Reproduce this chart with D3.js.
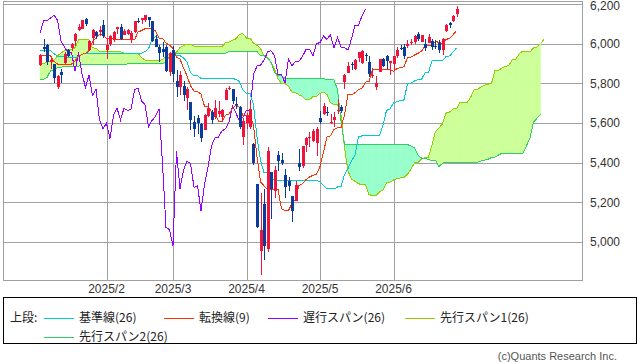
<!DOCTYPE html>
<html>
<head>
<meta charset="utf-8">
<script src="https://cdn.jsdelivr.net/npm/d3@7"></script>
<style>
body{margin:0;background:#fff;}
svg{display:block;}
</style>
</head>
<body>
<div id="chart"></div>
<script>
// daily candles, 2025/1/3 .. 2025/6/27
var open = [5891,5982,5993,5910,5897,5782,5859,5905,5968,5977,
    6015,6069,6076,6122,5969,6027,6058,6058,6096,5970,
    5998,6020,6072,6083,6046,6049,6025,6060,6116,6121,
    6117,6134,6114,6026,5982,5971,5981,5857,5969,5811,
    5782,5786,5726,5705,5604,5624,5594,5563,5635,5655,
    5632,5646,5630,5718,5775,5771,5695,5679,5527,5598,
    5580,5492,5293,4953,5194,4967,5353,5255,5441,5412,
    5336,5306,5232,5207,5396,5381,5489,5529,5508,5500,
    5625,5646,5655,5605,5617,5663,5679,5807,5854,5895,
    5870,5929,5902,5944,5910,5842,5782,5855,5925,5939,
    5903,5897,5938,5979,5985,5987,6005,6010,6049,6010,
    6000,6004,6012,5987,6004,5969,6062,6104,6112,6151];
var high = [5949,6021,6000,5928,5897,5840,5871,5960,5975,6001,
    6052,6100,6119,6128,6017,6074,6062,6087,6120,6022,
    6042,6062,6084,6101,6073,6076,6063,6116,6127,6129,
    6147,6134,6114,6044,5992,6010,5994,5959,5987,5865,
    5861,5812,5783,5706,5636,5642,5598,5645,5703,5665,
    5715,5711,5670,5775,5786,5772,5732,5685,5627,5650,
    5695,5500,5293,5246,5268,5481,5353,5381,5460,5450,
    5367,5329,5232,5309,5470,5485,5528,5554,5572,5581,
    5659,5700,5683,5646,5654,5720,5691,5845,5906,5906,
    5925,5959,5969,5954,5938,5878,5839,5922,5929,5944,
    5915,5937,5981,5991,5999,6017,6021,6043,6060,6046,
    6026,6050,6024,6018,6018,6028,6101,6108,6146,6188];
var low = [5888,5960,5890,5874,5800,5773,5801,5895,5932,5961,
    5990,6065,6074,6088,5962,5995,6024,6040,6031,5923,
    5990,6007,6049,6020,6046,6043,6003,6052,6103,6099,
    6111,6084,6008,5982,5909,5934,5858,5837,5806,5732,
    5742,5711,5666,5565,5529,5546,5504,5563,5631,5597,
    5622,5632,5603,5718,5764,5694,5670,5572,5488,5572,
    5571,5390,5069,4835,4910,4950,5116,5221,5359,5387,
    5220,5255,5101,5207,5358,5371,5455,5478,5505,5434,
    5597,5640,5634,5597,5580,5644,5649,5773,5852,5868,
    5866,5908,5895,5913,5830,5827,5768,5855,5880,5872,
    5843,5862,5929,5966,5921,5978,5994,6000,6014,6006,
    5963,6004,5969,5971,5952,5943,6059,6081,6107,6133];
var close = [5942,5975,5909,5918,5827,5836,5843,5950,5937,5997,
    6049,6086,6119,6101,6012,6067,6039,6071,6041,5994,
    6038,6061,6083,6026,6066,6069,6052,6115,6115,6129,
    6144,6118,6013,5983,5955,5956,5861,5955,5849,5779,
    5842,5739,5770,5615,5572,5599,5522,5639,5675,5615,
    5675,5663,5668,5767,5777,5712,5693,5581,5612,5633,
    5671,5397,5074,5062,4982,5457,5268,5363,5406,5397,
    5276,5283,5158,5288,5376,5485,5525,5529,5561,5570,
    5604,5687,5650,5607,5631,5664,5660,5844,5887,5892,
    5916,5958,5964,5940,5845,5842,5803,5922,5889,5912,
    5912,5936,5970,5971,5939,6000,6006,6039,6022,6045,
    5977,6033,5982,5981,5967,6025,6092,6092,6141,6173];

// 転換線(9)
var tenkan = [5939,5939,5939,5939,5910.5,5897,5897,5897,5897,5897,
    5912.5,5936.5,5946,5950.5,5964.5,6011.5,6030,6044.5,6045,6025.5,
    6025.5,6025.5,6021.5,6021.5,6021.5,6021.5,6021.5,6019.5,6058.5,6066,
    6075,6075,6075,6064.5,6028,6028,6002.5,5992,5976.5,5933,
    5923,5877.5,5838,5787.5,5761.5,5758,5745.5,5684.5,5682.5,5658,
    5643.5,5609.5,5609.5,5639.5,5645,5674.5,5691.5,5679,5637,5637,
    5637,5588,5427.5,5303.5,5283.5,5265,5265,5265,5265,5167.5,
    5158,5158,5195.5,5215.5,5285.5,5293,5314.5,5327.5,5336.5,5341,
    5380,5453.5,5529,5535.5,5567,5577,5577,5639.5,5743,5743,
    5752.5,5769.5,5774.5,5806.5,5809,5871,5868.5,5868.5,5868.5,5868.5,
    5868.5,5861,5874.5,5879.5,5883.5,5930,5932,5943,5951.5,5961,
    5990.5,5990.5,5990.5,6011.5,6006,6001.5,6022,6025.5,6044.5,6065.5];

// 基準線(26)
var kijun = [5964.5,5964.5,5964.5,5964.5,5950,5936.5,5936.5,5936.5,5931.5,5929,
    5929,5936.5,5946,5950.5,5950.5,5950.5,5950.5,5950.5,5950.5,5950.5,
    5950.5,5950.5,5950.5,5950.5,5950.5,5950.5,5950.5,5950.5,5950.5,5951,
    5960,5974,6021,6035,6028,6028,6002.5,5992,5976.5,5939.5,
    5939.5,5929,5906.5,5856,5838,5838,5825.5,5825.5,5825.5,5825.5,
    5825.5,5825.5,5825.5,5825.5,5825.5,5825.5,5819,5809,5766,5749,
    5749,5692,5528,5411,5350,5348,5323.5,5310.5,5310.5,5310.5,
    5310.5,5310.5,5310.5,5310.5,5310.5,5310.5,5310.5,5310.5,5310.5,5310.5,
    5303.5,5283.5,5267.5,5267.5,5267.5,5277.5,5277.5,5340,5370.5,5408,
    5437.5,5530,5535,5535,5535,5535,5535,5535,5588,5663.5,
    5670,5701.5,5707.5,5712.5,5716.5,5798.5,5800.5,5811.5,5820,5820,
    5852,5854.5,5914,5914,5914,5914,5934.5,5938,5957,5978];

// 先行スパン1(26), drawn from the first candle to 25 days past the last
var span1 = [5899,5899,5908.5,5913,5916.5,5938.75,5953.25,5964.75,5970.25,5970.25,
    5979.5,6018.75,6018.75,6018.75,6018.75,5979.25,5976.5,5962.25,5962.25,5962.25,
    5962.25,5962.25,5958.5,5958.5,5951.75,
    5951.75,5951.75,5951.75,5951.75,5930.25,5916.75,5916.75,5916.75,5914.25,5913,
    5920.75,5936.5,5946,5950.5,5957.5,5981,5990.25,5997.5,5997.75,5988,
    5988,5988,5986,5986,5986,5986,5986,5985,6004.5,6008.5,
    6017.5,6024.5,6048,6049.75,6028,6028,6002.5,5992,5976.5,5936.25,
    5931.25,5903.25,5872.25,5821.75,5799.75,5798,5785.5,5755,5754,5741.75,
    5734.5,5717.5,5717.5,5732.5,5735.25,5750,5755.25,5744,5701.5,5693,
    5693,5640,5477.75,5357.25,5316.75,5306.5,5294.25,5287.75,5287.75,5239,
    5234.25,5234.25,5253,5263,5298,5301.75,5312.5,5319,5323.5,5325.75,
    5341.75,5368.5,5398.25,5401.5,5417.25,5427.25,5427.25,5489.75,5556.75,5575.5,
    5595,5649.75,5654.75,5670.75,5672,5703,5701.75,5701.75,5728.25,5766,
    5769.25,5781.25,5791,5796,5800,5864.25,5866.25,5877.25,5885.75,5890.5,
    5921.25,5922.5,5952.25,5962.75,5960,5957.75,5978.25,5981.75,6000.75,6021.75];

// 先行スパン2(26)
var span2 = [5820,5820,5829.5,5863.5,5864.5,5880.5,5880.5,5887,5887,5887,
    5887,5887,5895,5895,5895,5895,5895,5895,5895,5895,
    5895,5895,5895,5895,5895,
    5898,5898,5898,5898,5898,5898,5898,5898,5898,5898,
    5898,5907,5936.5,5950.5,5950.5,5950.5,5950.5,5950.5,5950.5,5950.5,
    5950.5,5950.5,5950.5,5950.5,5950.5,5950.5,5950.5,5950.5,5950.5,5960,
    5960,5960,5960,5960,5960,5960,5960,5960,5939.5,5939.5,
    5929,5906.5,5856,5838,5838,5825.5,5825.5,5825.5,5825.5,5825.5,
    5825.5,5825.5,5825.5,5825.5,5825.5,5825.5,5825.5,5817.5,5817.5,5817.5,
    5768.5,5608,5491,5491,5491,5491,5491,5491,5491,5491,
    5491,5491,5491,5491,5491,5491,5491,5491,5491,5491,
    5491,5484.5,5474.5,5439.5,5422.5,5422.5,5414.5,5411,5411,5380,
    5397,5402,5402,5402,5402,5402,5402,5402,5402,5402,
    5402,5408,5413,5417,5426,5428,5439,5447.5,5447.5,5447.5,
    5447.5,5447.5,5447.5,5447.5,5485,5525.5,5604.5,5623.5,5644.5];

var chikouShift = 26;
var yTicks = [5000,5200,5400,5600,5800,6000,6200];
var monthLabels = ['2025/2','2025/3','2025/4','2025/5','2025/6'];
var holidays = ['2025-01-09','2025-01-20','2025-02-17','2025-04-18','2025-05-26','2025-06-19'];
var legendItems = [
    {label:'基準線(26)', color:'#00cccc'},
    {label:'転換線(9)', color:'#ff3300'},
    {label:'遅行スパン(26)', color:'#9900ff'},
    {label:'先行スパン1(26)', color:'#99cc00'},
    {label:'先行スパン2(26)', color:'#33cc66'}
];

// trading days
var fmt = d3.timeFormat('%Y-%m-%d');
var dates = [];
var day = new Date(2025, 0, 3);
while (dates.length < close.length) {
    var dow = day.getDay();
    if (dow > 0 && dow < 6 && holidays.indexOf(fmt(day)) < 0) dates.push(new Date(day));
    day.setDate(day.getDate() + 1);
}

var W = 638, H = 362;
var plotL = 3, plotR = 582, plotT = 1, plotB = 280;

var svg = d3.select('#chart').append('svg')
    .attr('width', W).attr('height', H);

var x = d3.scaleLinear().domain([0, span1.length - 1]).range([40, 544]);
var y = d3.scaleLinear().domain([4808.4, 6215.1]).range([plotB, plotT]);

var px = function(v){ return Math.round(v) + 0.5; };

// grid
var grid = svg.append('g').attr('stroke', '#a0a0a0').attr('shape-rendering', 'crispEdges');
grid.selectAll('line.h').data(yTicks).enter().append('line')
    .attr('x1', plotL).attr('x2', plotR)
    .attr('y1', function(d){ return px(y(d)); })
    .attr('y2', function(d){ return px(y(d)); });

var monthStarts = [];
dates.forEach(function(d, i){
    if (i > 0 && d.getMonth() != dates[i-1].getMonth()) monthStarts.push(i);
});
grid.selectAll('line.v').data(monthStarts).enter().append('line')
    .attr('x1', function(d){ return px(x(d)); })
    .attr('x2', function(d){ return px(x(d)); })
    .attr('y1', plotT).attr('y2', plotB);

svg.append('rect')
    .attr('x', plotL + 0.5).attr('y', plotT + 0.5)
    .attr('width', plotR - plotL).attr('height', plotB - plotT)
    .attr('fill', 'none').attr('stroke', '#a0a0a0');

// cloud: split every segment where the two spans cross
var bull = [], bear = [];
for (var j = 0; j < span1.length - 1; j++) {
    var a0 = span1[j], a1 = span1[j+1], b0 = span2[j], b1 = span2[j+1];
    var d0 = a0 - b0, d1 = a1 - b1;
    if (d0 * d1 < 0) {
        var t = d0 / (d0 - d1);
        var xm = j + t, vm = a0 + (a1 - a0) * t;
        (d0 > 0 ? bull : bear).push([[j, a0], [xm, vm], [j, b0]]);
        (d1 > 0 ? bull : bear).push([[xm, vm], [j+1, a1], [j+1, b1]]);
    } else {
        ((d0 + d1) >= 0 ? bull : bear).push([[j, a0], [j+1, a1], [j+1, b1], [j, b0]]);
    }
}
var poly = function(p){
    return 'M' + p.map(function(q){ return x(q[0]) + ',' + y(q[1]); }).join('L') + 'Z';
};
svg.append('g').selectAll('path').data(bull).enter().append('path')
    .attr('d', poly).attr('fill', '#ccff99').attr('stroke', '#ccff99').attr('stroke-width', 0.6);
svg.append('g').selectAll('path').data(bear).enter().append('path')
    .attr('d', poly).attr('fill', '#99ffcc').attr('stroke', '#99ffcc').attr('stroke-width', 0.6);

function drawLine(values, color, offset){
    var line = d3.line()
        .x(function(d, i){ return x(i + offset); })
        .y(function(d){ return y(d); });
    svg.append('path').datum(values)
        .attr('d', line)
        .attr('fill', 'none')
        .attr('stroke', color)
        .attr('stroke-width', 1)
        .attr('shape-rendering', 'crispEdges');
}

drawLine(span1, '#99cc00', 0);
drawLine(span2, '#33cc66', 0);
drawLine(close.slice(chikouShift), '#9900ff', 0);
drawLine(kijun, '#00cccc', 0);
drawLine(tenkan, '#ff3300', 0);

// candles
var upCol = '#f0143c', downCol = '#0a3c9c';
var candles = svg.append('g').attr('shape-rendering', 'crispEdges');
var c = candles.selectAll('g').data(close).enter().append('g');
c.append('line')
    .attr('x1', function(d, i){ return px(x(i)); })
    .attr('x2', function(d, i){ return px(x(i)); })
    .attr('y1', function(d, i){ return y(high[i]); })
    .attr('y2', function(d, i){ return y(low[i]); })
    .attr('stroke', function(d, i){ return d >= open[i] ? upCol : downCol; });
c.append('rect')
    .attr('x', function(d, i){ return Math.round(x(i)) - 1; })
    .attr('width', 3)
    .attr('y', function(d, i){ return y(Math.max(d, open[i])); })
    .attr('height', function(d, i){ return Math.max(1, Math.abs(y(d) - y(open[i]))); })
    .attr('fill', function(d, i){ return d >= open[i] ? upCol : downCol; });

// axis labels
svg.selectAll('text.yl').data(yTicks).enter().append('text')
    .attr('x', 590).attr('y', function(d){ return Math.max(y(d), 5.5); })
    .attr('dy', '0.36em')
    .attr('font-family', 'Liberation Sans, Arial, sans-serif')
    .attr('font-size', 12).attr('fill', '#333')
    .text(d3.format(','));

svg.selectAll('text.xl').data(monthStarts).enter().append('text')
    .attr('x', function(d){ return x(d); }).attr('y', 293)
    .attr('text-anchor', 'middle')
    .attr('font-family', 'Liberation Sans, Arial, sans-serif')
    .attr('font-size', 12).attr('fill', '#333')
    .text(function(d, i){ return monthLabels[i]; });

// legend
var lg = svg.append('g').attr('font-family', '"Noto Sans CJK JP", sans-serif').attr('font-size', 12).attr('fill', '#222');
lg.append('rect').attr('x', 3.5).attr('y', 297.5).attr('width', 633).attr('height', 46)
    .attr('fill', 'none').attr('stroke', '#000');
lg.append('text').attr('x', 10).attr('y', 322).text('上段:');
var slots = [[44, 318], [164, 318], [268, 318], [405, 318], [44, 337]];
legendItems.forEach(function(item, i){
    var s = slots[i];
    lg.append('line').attr('x1', s[0]).attr('x2', s[0] + 30)
        .attr('y1', s[1] + 0.5).attr('y2', s[1] + 0.5)
        .attr('stroke', item.color).attr('stroke-width', 1);
    lg.append('text').attr('x', s[0] + 35).attr('y', s[1] + 4).text(item.label);
});

svg.append('text').attr('x', 617).attr('y', 360)
    .attr('text-anchor', 'end')
    .attr('font-family', 'Liberation Sans, Arial, sans-serif')
    .attr('font-size', 11).attr('fill', '#555')
    .text('(c)Quants Research Inc.');
</script>
</body>
</html>
